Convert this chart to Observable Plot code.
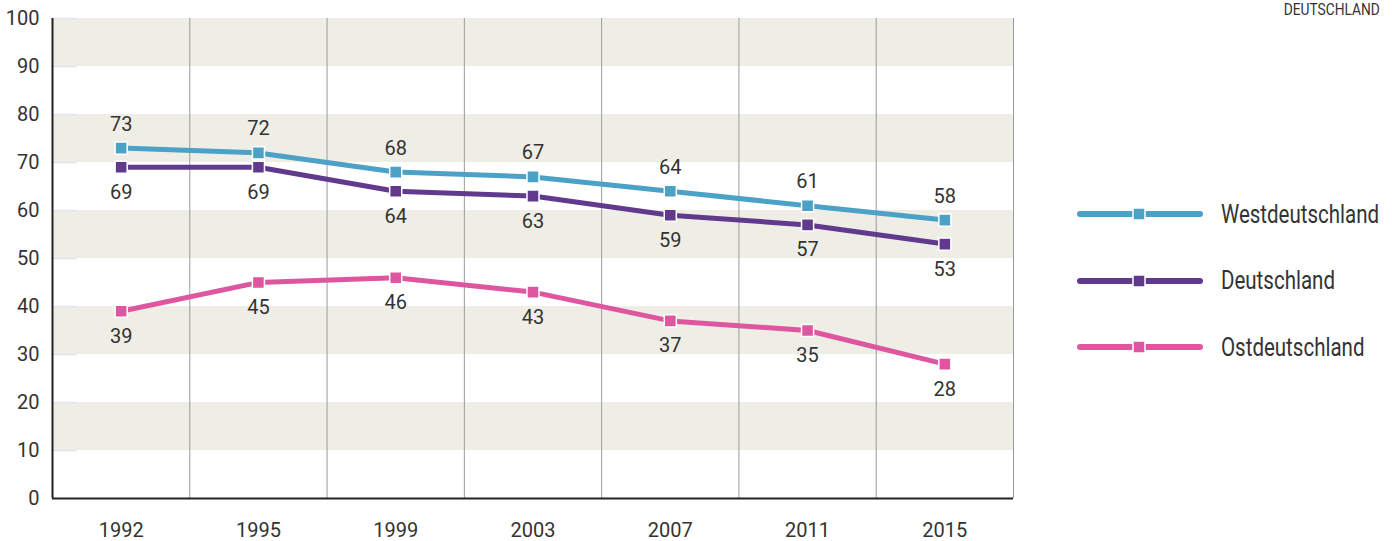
<!DOCTYPE html>
<html>
<head>
<meta charset="utf-8">
<script src="https://cdn.jsdelivr.net/npm/d3@7"></script>
<script src="https://cdn.jsdelivr.net/npm/@observablehq/plot@0.6"></script>
<style>
  body { margin: 0; background: #fff; font-family: Roboto, "DejaVu Sans Condensed", sans-serif; }
  #wrap { position: relative; width: 1392px; height: 541px; overflow: hidden; }
  #chart { position: absolute; left: 0; top: 0; }
  #note { position: absolute; right: 12px; top: 0px; font-size: 16px; color: #333; transform: scaleX(0.86); transform-origin: right top; }
  #legend { position: absolute; left: 1070px; top: 181px; }
  .item { display: flex; align-items: center; height: 66.5px; font-size: 25px; color: #333; }
  .item svg { margin-right: 13px; }
  .item span { display: inline-block; transform: scaleX(0.82); transform-origin: left center; white-space: nowrap; }
</style>
</head>
<body>
<div id="wrap">
  <div id="chart"></div>
  <div id="note">DEUTSCHLAND</div>
  <div id="legend"></div>
</div>
<script>
const years = ["1992", "1995", "1999", "2003", "2007", "2011", "2015"];
const series = ["Westdeutschland", "Deutschland", "Ostdeutschland"];
const colors = ["#4ba1c6", "#613a8d", "#df56a0"];
const west = [73, 72, 68, 67, 64, 61, 58];
const germany = [69, 69, 64, 63, 59, 57, 53];
const east = [39, 45, 46, 43, 37, 35, 28];
const yTicks = [0, 10, 20, 30, 40, 50, 60, 70, 80, 90, 100];
const bands = [[10, 20], [30, 40], [50, 60], [70, 80], [90, 100]];

const values = [west, germany, east];
const data = [];
series.forEach((s, k) => values[k].forEach((v, i) => data.push({series: s, i, year: years[i], v})));
const boundaries = years.map((_, i) => i + 0.5);

const plot = Plot.plot({
  width: 1020,
  height: 541,
  marginLeft: 52,
  marginRight: 7,
  marginTop: 18,
  marginBottom: 43,
  style: {fontFamily: 'Roboto, "DejaVu Sans Condensed", sans-serif', color: "#333", background: "transparent"},
  x: {type: "linear", domain: [-0.5, years.length - 0.5]},
  y: {domain: [0, 100]},
  color: {domain: series, range: colors},
  marks: [
    Plot.rect(bands, {y1: d => d[0], y2: d => d[1], fill: "#efeee6"}),
    Plot.ruleY(yTicks.slice(1), {x1: -0.5, x2: -0.32, stroke: "#e2e3ee", strokeWidth: 1.5}),
    Plot.ruleX(boundaries, {stroke: "#9a9a9a", strokeWidth: 1}),
    Plot.ruleX([-0.5], {stroke: "#222", strokeWidth: 2}),
    Plot.ruleY([0], {stroke: "#222", strokeWidth: 2}),
    Plot.axisY({ticks: yTicks, tickSize: 0, tickPadding: 13, fontSize: 20, label: null}),
    Plot.axisX({ticks: d3.range(years.length), tickFormat: i => years[i], tickSize: 0, tickPadding: 24, fontSize: 20, label: null}),
    Plot.line(data, {x: "i", y: "v", z: "series", stroke: "series", strokeWidth: 5, strokeLinejoin: "round"}),
    Plot.dot(data, {x: "i", y: "v", fill: "series", symbol: "square", r: 6.8, stroke: "white", strokeWidth: 1.5}),
    Plot.text(data.filter(d => d.series === "Westdeutschland"), {x: "i", y: "v", text: d => String(d.v), dy: -24, fontSize: 20, fill: "#333"}),
    Plot.text(data.filter(d => d.series !== "Westdeutschland"), {x: "i", y: "v", text: d => String(d.v), dy: 25, fontSize: 20, fill: "#333"})
  ]
});
document.getElementById("chart").appendChild(plot);

const legend = document.getElementById("legend");
series.forEach((s, k) => {
  const div = document.createElement("div");
  div.className = "item";
  div.innerHTML = `<svg width="138" height="20"><line x1="10" x2="130" y1="10" y2="10" stroke="${colors[k]}" stroke-width="6" stroke-linecap="round"/><rect x="63" y="4" width="12" height="12" fill="${colors[k]}" stroke="white" stroke-width="1.5"/></svg><span>${s}</span>`;
  legend.appendChild(div);
});
</script>
</body>
</html>
